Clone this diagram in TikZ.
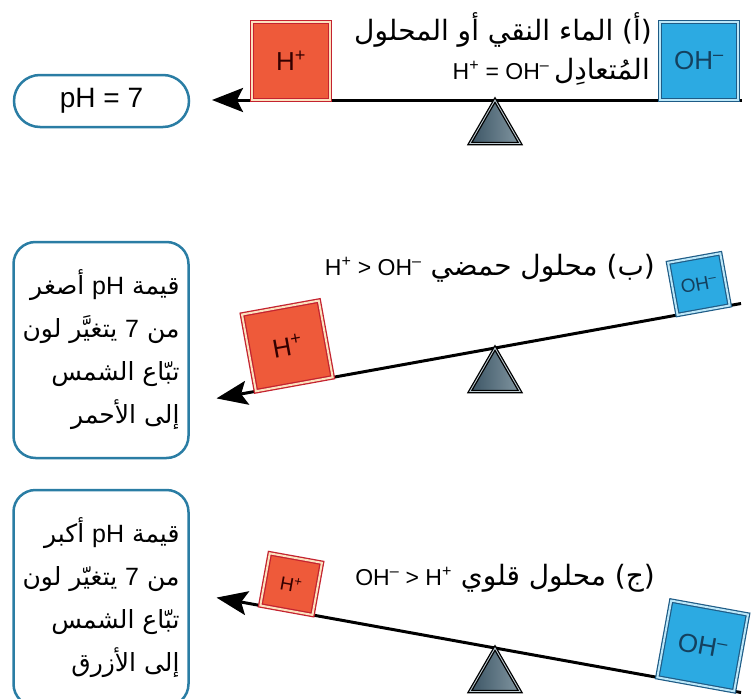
\documentclass[tikz,border=0pt]{standalone}
\usepackage{fontspec}
\setmainfont{Liberation Sans}
\newfontfamily\arabicfont[Script=Arabic]{DejaVu Sans}
\newfontfamily\latfont{Liberation Sans}
\TeXXeTstate=1
\usetikzlibrary{arrows.meta,shapes.geometric}
\pgfdeclarelayer{bg}
\pgfsetlayers{bg,main}
\definecolor{boxline}{HTML}{2A7DA4}
\definecolor{hfill}{HTML}{EE5A3A}
\definecolor{hedge}{HTML}{C4222F}
\definecolor{hcream}{HTML}{FBE2BE}
\definecolor{ohfill}{HTML}{2CAAE2}
\definecolor{ohedge}{HTML}{1D5B86}
\definecolor{ohlight}{HTML}{BCE7F8}
\definecolor{tridark}{HTML}{3B5464}
\definecolor{trilight}{HTML}{90A7B3}
\newcommand{\lat}[1]{{\latfont #1}}
\newcommand{\ionpair}[1]{{\latfont\fontsize{23}{26}\selectfont\beginL #1\endL}}
\newcommand{\Hp}{H\textsuperscript{+}}
\newcommand{\OHm}{OH\textsuperscript{–}}
\tikzset{
  ionH/.style={draw=hedge, double=hcream, double distance=2pt, line width=1.3pt,
    fill=hfill, text=black!80!red, inner sep=0pt, outer sep=0pt, anchor=south},
  ionOH/.style={draw=ohedge, double=ohlight, double distance=2pt, line width=1.2pt,
    fill=ohfill, text=ohedge!70!black, inner sep=0pt, outer sep=0pt, anchor=south},
  bigion/.style={minimum size=78pt, font=\fontsize{26}{28}\selectfont},
  smallion/.style={minimum size=53pt, font=\fontsize{19}{21}\selectfont},
  fulcrum/.style={regular polygon, regular polygon sides=3, minimum size=58pt,
    inner sep=0pt, outer sep=0pt, draw=black, line width=1.3pt,
    double=trilight!60!white, double distance=0.9pt,
    left color=tridark, right color=trilight!90!black, anchor=corner 1},
  beam/.style={line width=3pt,
    -{Stealth[length=31pt 0 0, width=24pt 0 0, inset=6pt 0, fill=black]}},
  infobox/.style={draw=boxline, line width=2.5pt, rounded corners=22pt,
    minimum width=175pt, inner sep=0pt, align=right,
    font=\arabicfont\fontsize{25}{43}\selectfont},
  ptext/.style={anchor=east, inner sep=0pt, font=\arabicfont\fontsize{28}{40}\selectfont}
}
\begin{document}
\begin{tikzpicture}[x=1pt, y=-1pt]
        \useasboundingbox (0,0) rectangle (753,699);
        \coordinate (pa) at (495,100);
        \coordinate (la) at (212,100);
        \coordinate (ra) at (742,100);
        \coordinate (pb) at (495,348);
        \coordinate (lb) at (216.5,398.4);
        \coordinate (rb) at (741,303.5);
        \coordinate (pc) at (495,648);
        \coordinate (lc) at (216.5,597.6);
        \coordinate (rc) at (741,692.5);
        \node (fa) [fulcrum] at (pa) {};
        \node (fb) [fulcrum] at (pb) {};
        \node (fc) [fulcrum] at (pc) {};
        \begin{pgfonlayer}{bg}
                \draw [beam] (ra) -- (la);
                \draw [beam] (rb) -- (lb);
                \draw [beam] (rc) -- (lc);
        \end{pgfonlayer}
        \node (ha) [ionH, bigion] at (291,100) {\Hp};
        \node (oa) [ionOH, bigion] at (699,100) {\OHm};
        \node (hb) [ionH, bigion, rotate=10.26] at (294.3,384.3) {\Hp};
        \node (ob) [ionOH, smallion, rotate=10.26] at (703.6,310.2) {\OHm};
        \node (hc) [ionH, smallion, rotate=-10.26] at (286.4,610.2) {\Hp};
        \node (oc) [ionOH, bigion, rotate=-10.26] at (695.7,684.3) {\OHm};
        \node (ph) [infobox, rounded corners=26pt, minimum height=52pt,
                align=center, font=\fontsize{28}{30}\selectfont] at (101.5,101) {pH = 7};
        \node (acid) [infobox, minimum height=216pt] at (101,350) {%
                \beginR قيمة \lat{pH} أصغر\endR\\
                \beginR من \lat{7} يتغيَّر لون\endR\\
                \beginR تبّاع الشمس\endR\\
                \beginR إلى الأحمر\endR};
        \node (base) [infobox, minimum height=216pt] at (101,598) {%
                \beginR قيمة \lat{pH} أكبر\endR\\
                \beginR من \lat{7} يتغيّر لون\endR\\
                \beginR تبّاع الشمس\endR\\
                \beginR إلى الأزرق\endR};
        \node (ta1) [ptext] at (652,30) {\beginR (أ) الماء النقي أو المحلول\endR};
        \node (ta2) [ptext] at (650,72) {\beginR المُتعادِل\,\ionpair{\Hp{} = \OHm}\endR};
        \node (tb) [ptext] at (655,268) {\beginR (ب) محلول حمضي \ionpair{\Hp{} > \OHm}\endR};
        \node (tc) [ptext] at (655,578) {\beginR (ج) محلول قلوي \ionpair{\OHm{} > \Hp}\endR};
\end{tikzpicture}
\end{document}
